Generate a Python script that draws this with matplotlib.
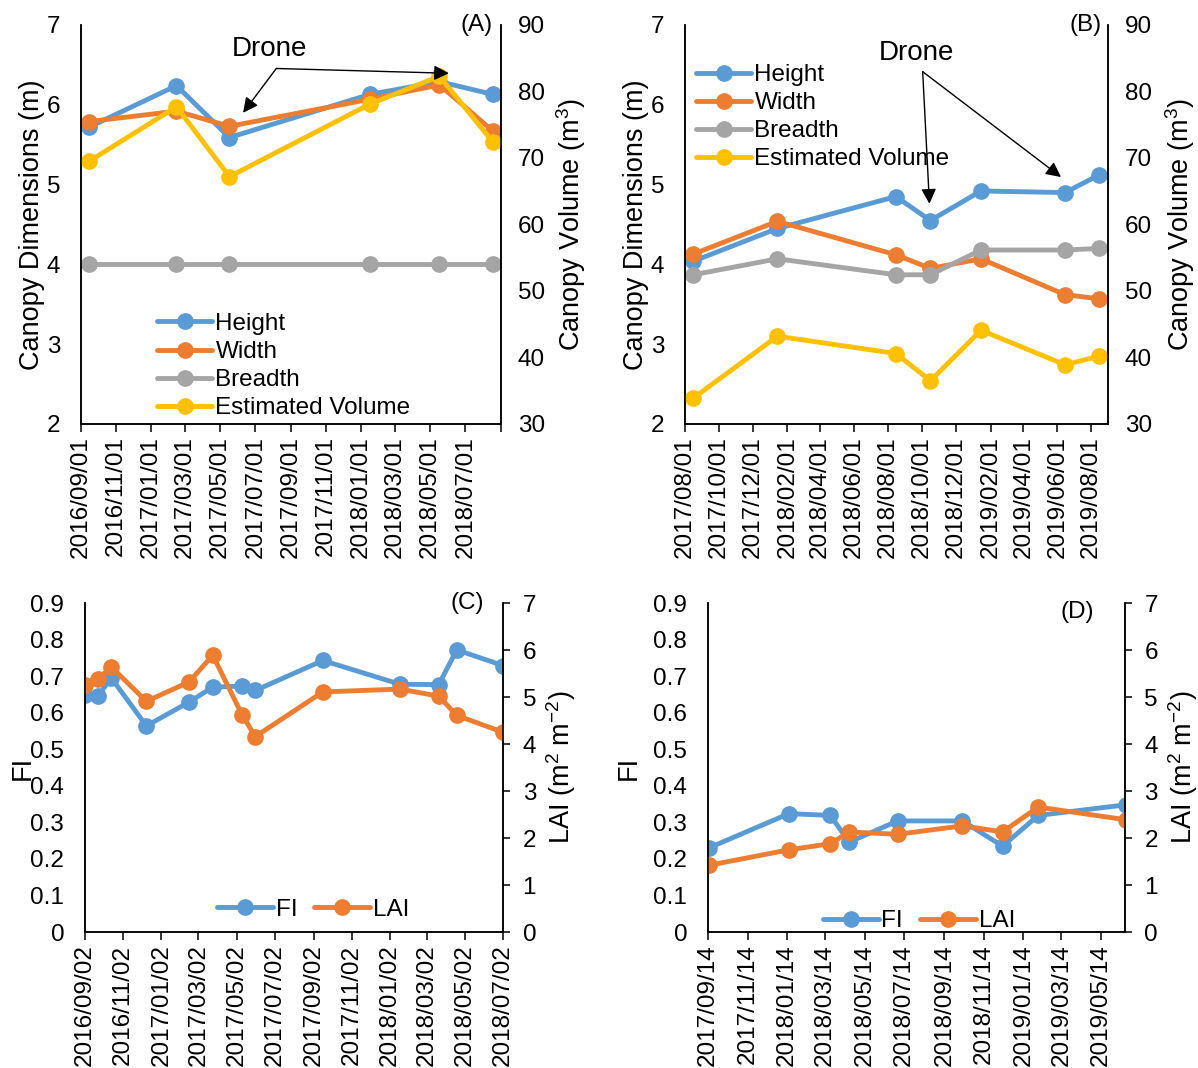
import matplotlib
matplotlib.use("Agg")
import matplotlib.pyplot as plt
import pandas as pd

plt.rcParams["font.family"] = ["Liberation Sans", "DejaVu Sans"]
plt.rcParams["mathtext.fontset"] = "custom"
plt.rcParams["mathtext.rm"] = "Liberation Sans"
plt.rcParams["mathtext.it"] = "Liberation Sans:italic"

BLUE, ORANGE, GRAY, YELLOW = "#5B9BD5", "#ED7D31", "#A5A5A5", "#FFC000"

# --- (A) canopy dimensions, 2016-2018 ---
a_dates = ["2016-09-15", "2017-02-14", "2017-05-17", "2018-01-16", "2018-05-17", "2018-08-18"]
a_height = [5.72, 6.24, 5.59, 6.13, 6.29, 6.13]
a_width = [5.79, 5.92, 5.73, 6.07, 6.25, 5.67]
a_breadth = [4.0, 4.0, 4.0, 4.0, 4.0, 4.0]
a_volume = [69.5, 77.7, 67.2, 78.1, 82.3, 72.4]

# --- (B) canopy dimensions, 2017-2019 ---
b_dates = ["2017-08-16", "2018-01-14", "2018-08-15", "2018-10-16", "2019-01-15", "2019-06-15", "2019-08-15"]
b_height = [4.04, 4.45, 4.85, 4.55, 4.92, 4.90, 5.12]
b_width = [4.13, 4.54, 4.12, 3.95, 4.07, 3.62, 3.57]
b_breadth = [3.87, 4.07, 3.87, 3.87, 4.18, 4.18, 4.20]
b_volume = [33.9, 43.2, 40.6, 36.5, 44.1, 38.9, 40.2]

# --- (C) FI and LAI, 2016-2018 ---
c_dates = ["2016-09-02", "2016-09-22", "2016-10-14", "2016-12-09", "2017-02-15", "2017-03-25",
           "2017-05-11", "2017-06-01", "2017-09-17", "2018-01-18", "2018-03-21", "2018-04-19",
           "2018-07-02"]
c_fi = [0.649, 0.645, 0.695, 0.564, 0.629, 0.670, 0.673, 0.661, 0.743, 0.678, 0.677, 0.772, 0.729]
c_lai = [5.26, 5.38, 5.64, 4.91, 5.32, 5.89, 4.62, 4.16, 5.11, 5.17, 5.02, 4.61, 4.25]

# --- (D) FI and LAI, 2017-2019 ---
d_dates = ["2017-09-15", "2018-01-17", "2018-03-22", "2018-04-20", "2018-07-04", "2018-10-12",
           "2018-12-13", "2019-02-06", "2019-06-21"]
d_fi = [0.230, 0.324, 0.319, 0.246, 0.304, 0.304, 0.235, 0.319, 0.348]
d_lai = [1.42, 1.75, 1.88, 2.13, 2.08, 2.26, 2.13, 2.66, 2.39]

TICK_FS = 17.5
LABEL_FS = 19.5
LINE = dict(marker="o", lw=3.5, ms=11, solid_capstyle="round")
LEG = dict(frameon=False, fontsize=TICK_FS, handlelength=2.3, handletextpad=0.12,
           borderaxespad=0, borderpad=0)


def style(ax, ax2, right_ticks):
    for a in (ax, ax2):
        a.spines["top"].set_visible(False)
        for s in ("left", "right", "bottom"):
            a.spines[s].set_linewidth(1.1)
    ax.tick_params(axis="y", length=0, labelsize=TICK_FS, pad=15)
    if right_ticks:
        ax2.tick_params(axis="y", length=5, width=1.1, direction="out", labelsize=TICK_FS, pad=9)
    else:
        ax2.tick_params(axis="y", length=0, labelsize=TICK_FS, pad=12)
    ax.tick_params(axis="x", length=6, width=1.1, direction="out",
                   labelsize=TICK_FS, rotation=90, pad=3)


def date_axis(ax, start, end, first_tick, n_ticks, n_labels):
    ticks = [pd.Timestamp(first_tick) + pd.DateOffset(months=2 * i) for i in range(n_ticks)]
    labels = [t.strftime("%Y/%m/%d") if i < n_labels else "" for i, t in enumerate(ticks)]
    ax.set_xticks(ticks)
    ax.set_xticklabels(labels)
    ax.set_xlim(pd.Timestamp(start), pd.Timestamp(end))


def arrow(ax, start, end):
    ax.annotate("", xy=end, xytext=start, xycoords="axes fraction", textcoords="axes fraction",
                arrowprops=dict(arrowstyle="-|>,head_length=0.9,head_width=0.45",
                                color="black", lw=1.0, shrinkA=0, shrinkB=0))


fig = plt.figure(figsize=(11.98, 10.68), dpi=100)

# ---------- (A) ----------
ax = fig.add_axes([0.0676, 0.603, 0.3506, 0.3736])
ax2 = ax.twinx()
x = pd.to_datetime(a_dates)
l1, = ax.plot(x, a_height, color=BLUE, label="Height", **LINE)
l2, = ax.plot(x, a_width, color=ORANGE, label="Width", **LINE)
l3, = ax.plot(x, a_breadth, color=GRAY, label="Breadth", **LINE)
l4, = ax2.plot(x, a_volume, color=YELLOW, label="Estimated Volume", **LINE)
ax.set_ylim(2, 7)
ax2.set_ylim(30, 90)
ax.set_ylabel("Canopy Dimensions (m)", fontsize=LABEL_FS, labelpad=1)
ax2.set_ylabel("Canopy Volume (m$^3$)", fontsize=LABEL_FS, labelpad=7)
date_axis(ax, "2016-09-01", "2018-09-01", "2016-09-01", 13, 12)
style(ax, ax2, False)
ax2.legend(handles=[l1, l2, l3, l4], loc="lower left", bbox_to_anchor=(0.18, 0.012),
           labelspacing=0.25, **LEG)
ax2.text(0.448, 0.939, "Drone", transform=ax2.transAxes, ha="center", va="center", fontsize=20)
arrow(ax2, (0.465, 0.891), (0.386, 0.78))
arrow(ax2, (0.465, 0.891), (0.876, 0.879))
ax2.text(0.942, 1.0, "(A)", transform=ax2.transAxes, ha="center", va="center", fontsize=TICK_FS)

# ---------- (B) ----------
ax = fig.add_axes([0.5718, 0.603, 0.353, 0.3736])
ax2 = ax.twinx()
x = pd.to_datetime(b_dates)
l1, = ax.plot(x, b_height, color=BLUE, label="Height", **LINE)
l2, = ax.plot(x, b_width, color=ORANGE, label="Width", **LINE)
l3, = ax.plot(x, b_breadth, color=GRAY, label="Breadth", **LINE)
l4, = ax2.plot(x, b_volume, color=YELLOW, label="Estimated Volume", **LINE)
ax.set_ylim(2, 7)
ax2.set_ylim(30, 90)
ax.set_ylabel("Canopy Dimensions (m)", fontsize=LABEL_FS, labelpad=1)
ax2.set_ylabel("Canopy Volume (m$^3$)", fontsize=LABEL_FS, labelpad=8)
date_axis(ax, "2017-08-01", "2019-08-31", "2017-08-01", 13, 13)
style(ax, ax2, False)
ax2.legend(handles=[l1, l2, l3, l4], loc="upper left", bbox_to_anchor=(0.025, 0.902),
           labelspacing=0.25, **LEG)
ax2.text(0.548, 0.929, "Drone", transform=ax2.transAxes, ha="center", va="center", fontsize=20)
arrow(ax2, (0.562, 0.883), (0.578, 0.552))
arrow(ax2, (0.562, 0.883), (0.889, 0.619))
ax2.text(0.948, 1.0, "(B)", transform=ax2.transAxes, ha="center", va="center", fontsize=TICK_FS)

# ---------- (C) ----------
ax = fig.add_axes([0.071, 0.1273, 0.349, 0.308])
ax2 = ax.twinx()
x = pd.to_datetime(c_dates)
l1, = ax.plot(x, c_fi, color=BLUE, label="FI", **LINE)
l2, = ax2.plot(x, c_lai, color=ORANGE, label="LAI", **LINE)
ax.set_ylim(0, 0.9)
ax.set_yticks([i / 10 for i in range(10)])
ax.set_yticklabels(["0"] + [f"{i / 10:.1f}" for i in range(1, 10)])
ax2.set_ylim(0, 7)
ax2.set_yticks(range(8))
ax.set_ylabel("FI", fontsize=LABEL_FS, labelpad=-4)
ax2.set_ylabel("LAI (m$^2$ m$^{-2}$)", fontsize=LABEL_FS, labelpad=6)
date_axis(ax, "2016-09-02", "2018-07-02", "2016-09-02", 12, 12)
style(ax, ax2, True)
ax2.legend(handles=[l1, l2], loc="lower left", bbox_to_anchor=(0.315, 0.035), ncol=2,
           columnspacing=0.7, **LEG)
ax2.text(0.914, 1.0, "(C)", transform=ax2.transAxes, ha="center", va="center", fontsize=TICK_FS)

# ---------- (D) ----------
ax = fig.add_axes([0.591, 0.1273, 0.348, 0.308])
ax2 = ax.twinx()
x = pd.to_datetime(d_dates)
l1, = ax.plot(x, d_fi, color=BLUE, label="FI", **LINE)
l2, = ax2.plot(x, d_lai, color=ORANGE, label="LAI", **LINE)
ax.set_ylim(0, 0.9)
ax.set_yticks([i / 10 for i in range(10)])
ax.set_yticklabels(["0"] + [f"{i / 10:.1f}" for i in range(1, 10)])
ax2.set_ylim(0, 7)
ax2.set_yticks(range(8))
ax.set_ylabel("FI", fontsize=LABEL_FS, labelpad=8)
ax2.set_ylabel("LAI (m$^2$ m$^{-2}$)", fontsize=LABEL_FS, labelpad=6)
date_axis(ax, "2017-09-14", "2019-06-20", "2017-09-14", 11, 11)
style(ax, ax2, True)
ax2.legend(handles=[l1, l2], loc="lower left", bbox_to_anchor=(0.275, 0.0), ncol=2,
           columnspacing=0.7, **LEG)
ax2.text(0.885, 0.973, "(D)", transform=ax2.transAxes, ha="center", va="center", fontsize=TICK_FS)

fig.savefig("out.png", dpi=100)
